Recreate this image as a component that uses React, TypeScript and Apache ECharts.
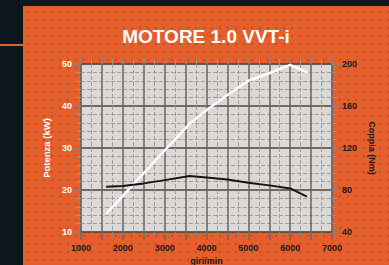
import React, { useEffect, useRef } from "react";
import * as echarts from "echarts";

const titleText = "MOTORE 1.0 VVT-i";
const rpmPower = [1600, 2000, 2500, 3000, 3600, 4000, 4500, 5000, 5500, 6000, 6400];
const powerKW = [14.3, 18.6, 24.0, 29.4, 35.8, 39.0, 42.6, 46.0, 47.8, 49.8, 48.0];
const rpmTorque = [1600, 2000, 2500, 3000, 3600, 4000, 4500, 5000, 5500, 6000, 6400];
const torqueNm = [83, 83.8, 86.3, 89.4, 93.3, 92, 90, 86.9, 84.4, 81.5, 73.6];
const xName = "giri/min";
const leftName = "Potenza (kW)";
const rightName = "Coppia (Nm)";

const FONT = "'Liberation Sans Narrow', 'Liberation Sans', Arial, sans-serif";

export default function App() {
  const ref = useRef<HTMLDivElement>(null);
  useEffect(() => {
    if (!ref.current) return;
    const chart = echarts.init(ref.current, undefined, { renderer: "svg" });
    const gridLine = "#6a6564";
    chart.setOption({
      animation: false,
      backgroundColor: "transparent",
      title: {
        text: titleText,
        left: 201,
        top: 22,
        textAlign: "center",
        textStyle: { color: "#ffffff", fontSize: 19, fontWeight: "bold", fontFamily: FONT },
      },
      grid: {
        left: 81,
        right: 57,
        top: 64,
        bottom: 33,
        outerBoundsMode: "none",
        containLabel: false,
        show: true,
        backgroundColor: "#dcd8d6",
        borderColor: "#6a6666",
        borderWidth: 1,
      },
      xAxis: [
        {
          type: "value",
          min: 1000,
          max: 7000,
          interval: 500,
          name: xName,
          nameLocation: "middle",
          nameGap: 17,
          nameTextStyle: { color: "#1a1a1a", fontSize: 9, fontWeight: "bold", fontFamily: FONT },
          axisLine: { show: false },
          axisTick: { show: true, length: 8, lineStyle: { color: "#6e6a6a", width: 1.5 } },
          minorTick: { show: true, splitNumber: 2, length: 5, lineStyle: { color: "#8a8482" } },
          axisLabel: {
            color: "#1a1a1a",
            fontSize: 9,
            fontWeight: "bold",
            fontFamily: FONT,
            margin: 11,
            formatter: (v: number) => (v % 1000 === 0 ? String(v) : ""),
          },
          splitLine: { show: true, lineStyle: { color: gridLine, width: 1.5 } },
          minorSplitLine: { show: true, lineStyle: { color: "#a29d9b", width: 1, type: "dashed" } },
        },
        {
          type: "value",
          position: "top",
          min: 1000,
          max: 7000,
          interval: 500,
          axisLine: { show: false },
          axisTick: { show: true, length: 7, lineStyle: { color: "#8a8482", width: 1.5 } },
          minorTick: { show: true, splitNumber: 2, length: 5, lineStyle: { color: "#9a9492" } },
          axisLabel: { show: false },
          splitLine: { show: false },
        },
      ],
      yAxis: [
        {
          type: "value",
          min: 10,
          max: 50,
          interval: 10,
          name: leftName,
          nameLocation: "middle",
          nameRotate: 90,
          nameGap: 28,
          nameTextStyle: { color: "#ffffff", fontSize: 9.5, fontWeight: "bold", fontFamily: FONT },
          axisLine: { show: false },
          axisTick: { show: true, length: 6, lineStyle: { color: "#8a8482" } },
          minorTick: { show: true, splitNumber: 5, length: 5, lineStyle: { color: "#9a9492" } },
          axisLabel: { color: "#ffffff", fontSize: 9, fontWeight: "bold", fontFamily: FONT, margin: 9 },
          splitLine: { show: true, lineStyle: { color: "#4a4646", width: 1.5 } },
          minorSplitLine: { show: true, lineStyle: { color: "#a29d9b", width: 1, type: "dashed" } },
        },
        {
          type: "value",
          position: "right",
          min: 40,
          max: 200,
          interval: 40,
          name: rightName,
          nameLocation: "middle",
          nameRotate: -90,
          nameGap: 31,
          nameTextStyle: { color: "#1a1a1a", fontSize: 9, fontWeight: "bold", fontFamily: FONT },
          axisLine: { show: false },
          axisTick: { show: true, length: 6, lineStyle: { color: "#8a8482" } },
          minorTick: { show: true, splitNumber: 5, length: 5, lineStyle: { color: "#9a9492" } },
          axisLabel: { color: "#1a1a1a", fontSize: 9, fontWeight: "bold", fontFamily: FONT, margin: 10 },
          splitLine: { show: false },
        },
      ],
      series: [
        {
          type: "line",
          name: leftName,
          xAxisIndex: 0,
          yAxisIndex: 0,
          data: rpmPower.map((r, i) => [r, powerKW[i]]),
          showSymbol: false,
          lineStyle: { color: "#ffffff", width: 2.5 },
          z: 5,
        },
        {
          type: "line",
          name: rightName,
          xAxisIndex: 0,
          yAxisIndex: 1,
          data: rpmTorque.map((r, i) => [r, torqueNm[i]]),
          showSymbol: false,
          lineStyle: { color: "#141414", width: 2 },
          z: 5,
        },
      ],
    });
    return () => chart.dispose();
  }, []);

  return (
    <div style={{ position: "absolute", left: 0, top: 0, width: 389, height: 265, background: "#0e1620", overflow: "hidden" }}>
      <div
        style={{
          position: "absolute",
          left: 23,
          top: 6,
          width: 366,
          height: 259,
          backgroundColor: "#e35f2c",
          backgroundImage: "radial-gradient(circle, #d2472b 1px, rgba(0,0,0,0) 1.6px)",
          backgroundSize: "8px 8px",
          backgroundPosition: "1px 2px",
        }}
      />
      <div style={{ position: "absolute", left: 0, top: 44, width: 23, height: 2, background: "#e35f2c" }} />
      <div ref={ref} style={{ position: "absolute", left: 0, top: 0, width: 389, height: 265 }} />
    </div>
  );
}
